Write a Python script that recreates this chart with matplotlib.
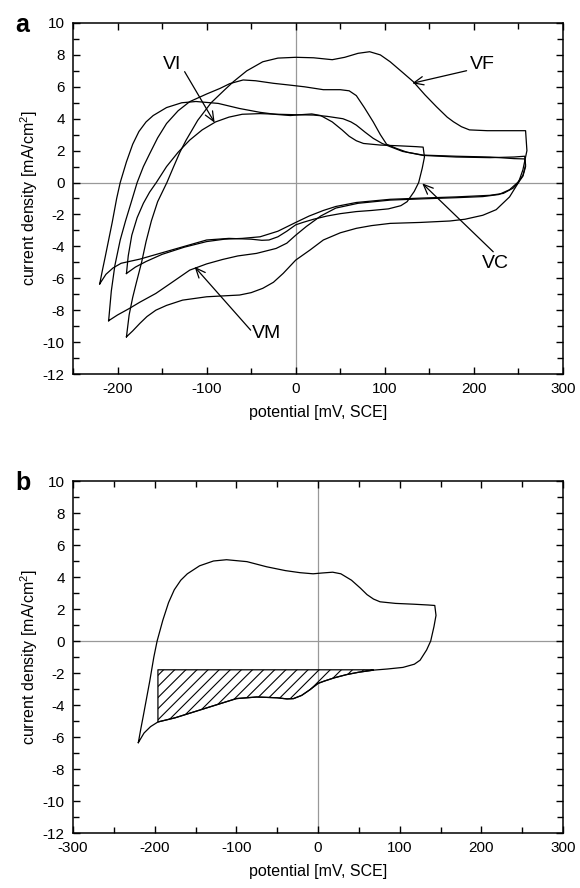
import numpy as np
import matplotlib
matplotlib.use('Agg')
import matplotlib.pyplot as plt
from matplotlib.ticker import MultipleLocator

plt.rcParams['font.family'] = ['Liberation Sans', 'DejaVu Sans']
plt.rcParams['axes.unicode_minus'] = False
plt.rcParams['mathtext.fontset'] = 'custom'
plt.rcParams['mathtext.rm'] = 'Liberation Sans'
plt.rcParams['mathtext.default'] = 'rm'
plt.rcParams['hatch.linewidth'] = 0.8

# cyclic voltammograms, potential [mV] and current density [mA/cm2]
vc_x = [-220, -217, -214, -210, -206, -201, -197, -190, -183, -176, -168, -160, -145, -128, -112,
        -87, -63, -40, -22, -6, 5, 18, 28, 41, 52, 60, 68, 76, 95, 117, 135, 143,
        144.5, 142, 138, 133, 125, 118, 104, 85, 68, 50, 35, 20, 8, 0, -10, -20, -30, -38,
        -50, -75, -100, -125, -150, -175, -196, -205, -213, -220]
vc_y = [-6.35, -5.5, -4.7, -3.6, -2.5, -1.0, 0.0, 1.3, 2.4, 3.2, 3.8, 4.2, 4.7, 5.0, 5.08,
        4.96, 4.64, 4.4, 4.27, 4.2, 4.25, 4.3, 4.2, 3.8, 3.3, 2.9, 2.62, 2.45, 2.35, 2.3, 2.25, 2.22,
        1.6, 0.9, 0.0, -0.56, -1.2, -1.45, -1.65, -1.75, -1.82, -1.95, -2.1, -2.3, -2.5, -2.65, -3.05, -3.4, -3.6, -3.62,
        -3.55, -3.5, -3.6, -4.0, -4.4, -4.8, -5.06, -5.35, -5.75, -6.35]

vi_x = [-190, -188, -184, -178, -171, -164, -156.5, -145, -132, -119, -105, -90, -75, -60, -40, -20,
        0, 20, 35, 53, 62, 68, 78, 87, 97, 106, 120, 143, 180, 218, 245, 257,
        258, 255, 250, 244, 233, 218, 180, 143, 106, 68, 45, 31, 15, 0, -20, -40, -60, -80,
        -100, -125, -150, -168, -180, -190]
vi_y = [-5.7, -4.6, -3.3, -2.2, -1.3, -0.6, 0.0, 1.0, 1.9, 2.66, 3.3, 3.8, 4.1, 4.28, 4.32, 4.28,
        4.25, 4.23, 4.15, 4.0, 3.8, 3.6, 3.15, 2.77, 2.45, 2.25, 1.95, 1.72, 1.65, 1.6, 1.5, 1.48,
        1.0, 0.4, 0.0, -0.35, -0.68, -0.8, -0.9, -0.97, -1.05, -1.25, -1.5, -1.75, -2.1, -2.5, -3.05, -3.4, -3.5, -3.55,
        -3.7, -4.05, -4.5, -4.95, -5.3, -5.7]

vm_x = [-210, -207, -203, -197, -191, -185, -178, -171, -164, -155, -145, -132, -119, -100, -85, -74,
        -59, -45, -25, -7, 10, 31, 50, 60, 68, 77, 87, 95, 102, 113, 125, 143, 180, 218, 245, 257,
        258, 255, 249, 240, 228, 210, 180, 143, 106, 70, 45, 28, 12, 0, -10, -22, -44, -65, -82,
        -100, -119, -140, -157, -175, -187, -200, -210]
vm_y = [-8.66, -6.8, -5.2, -3.6, -2.4, -1.3, 0.0, 1.0, 1.8, 2.8, 3.7, 4.5, 5.07, 5.55, 5.9, 6.2,
        6.43, 6.38, 6.22, 6.11, 6.0, 5.82, 5.82, 5.75, 5.45, 4.7, 3.8, 3.0, 2.4, 2.14, 1.9, 1.7, 1.6, 1.56, 1.6, 1.65,
        1.1, 0.45, 0.0, -0.45, -0.75, -0.88, -0.95, -1.02, -1.1, -1.3, -1.6, -2.1, -2.75, -3.3, -3.8, -4.13, -4.44, -4.6, -4.82,
        -5.1, -5.49, -6.3, -6.95, -7.5, -7.9, -8.3, -8.66]

vf_x = [-190, -187, -183, -179, -173, -168, -162, -155, -144.6, -137, -130, -123, -110, -95, -80, -70,
        -55, -37, -20, 0, 20, 41, 55, 70, 83, 95, 106, 120, 132, 145, 158, 170, 177, 186, 195, 215, 240, 258,
        259.5, 255, 250, 240, 225, 210, 190, 173, 140, 106, 85, 68, 50, 31, 16, 0, -14, -25, -37,
        -50, -63, -80, -100, -127, -145, -157, -167, -175, -183, -190]
vf_y = [-9.67, -8.3, -7.2, -6.3, -5.0, -3.7, -2.4, -1.2, 0.0, 1.0, 1.9, 2.66, 3.9, 5.0, 5.8, 6.32,
        7.0, 7.57, 7.8, 7.85, 7.82, 7.7, 7.85, 8.1, 8.2, 8.0, 7.57, 6.9, 6.32, 5.5, 4.75, 4.1, 3.81, 3.5, 3.3, 3.25, 3.25, 3.25,
        2.0, 0.8, 0.0, -0.9, -1.7, -2.05, -2.3, -2.41, -2.5, -2.56, -2.7, -2.87, -3.15, -3.6, -4.23, -4.86, -5.69, -6.25, -6.63,
        -6.9, -7.05, -7.1, -7.16, -7.37, -7.7, -8.0, -8.4, -8.83, -9.3, -9.67]

hatch_top = -1.8
hatch_left = -196

fig = plt.figure(figsize=(5.8, 8.88), dpi=100)
ax1 = fig.add_axes([73/580, 1-374/888, 490/580, 351/888])
ax2 = fig.add_axes([73/580, 1-833/888, 490/580, 352/888])

for ax in (ax1, ax2):
    ax.axhline(0, color='#999999', lw=0.9, zorder=1)
    ax.axvline(0, color='#999999', lw=0.9, zorder=1)
    ax.set_ylim(-12, 10)
    ax.yaxis.set_major_locator(MultipleLocator(2))
    ax.yaxis.set_minor_locator(MultipleLocator(1))
    ax.xaxis.set_minor_locator(MultipleLocator(50))
    ax.tick_params(which='both', direction='in', top=True, right=True, labelsize=11, width=1.0)
    ax.tick_params(which='major', length=5, pad=6)
    ax.tick_params(which='minor', length=4)
    for s in ax.spines.values():
        s.set_linewidth(1.1)
    ax.set_xlabel('potential [mV, SCE]', fontsize=11.5, labelpad=6)
    ax.set_ylabel('current density [mA/cm$^2$]', fontsize=11.5, labelpad=2)

# panel a
for xs, ys in [(vc_x, vc_y), (vi_x, vi_y), (vm_x, vm_y), (vf_x, vf_y)]:
    ax1.plot(xs, ys, color='k', lw=0.9, zorder=3)
ax1.set_xlim(-250, 300)
ax1.set_xticks(range(-200, 301, 100))

labels = [('VI', (-139, 7.4), (-124.7, 6.95), (-91, 3.75)),
          ('VF', (209.4, 7.4), (191.8, 7.01), (130.7, 6.22)),
          ('VC', (223.6, -5.09), (221.7, -4.34), (142, -0.05)),
          ('VM', (-32.9, -9.48), (-50.6, -9.25), (-113.5, -5.28))]
for txt, pos, tail, head in labels:
    ax1.text(pos[0], pos[1], txt, fontsize=14, ha='center', va='center')
    ax1.annotate('', xy=head, xytext=tail,
                 arrowprops=dict(arrowstyle='->,head_length=0.7,head_width=0.3', lw=0.9,
                                 color='k', shrinkA=0, shrinkB=0))

# panel b: hatched area between the cathodic branch and the baseline
ax2.plot(vc_x, vc_y, color='k', lw=0.9, zorder=3)
bx = np.array(vc_x[38:57])
by = np.array(vc_y[38:57])
m = (bx >= hatch_left) & (by <= hatch_top)
ax2.fill_between(bx[m], by[m], hatch_top, facecolor='none', edgecolor='k', hatch='///', lw=0.9, zorder=2)
ax2.set_xlim(-300, 300)
ax2.set_xticks(range(-300, 301, 100))

fig.text(22/580, 1-25/888, 'a', fontsize=18, fontweight='bold', ha='center', va='center')
fig.text(23/580, 1-483/888, 'b', fontsize=18, fontweight='bold', ha='center', va='center')

fig.savefig('out.png', dpi=100)
